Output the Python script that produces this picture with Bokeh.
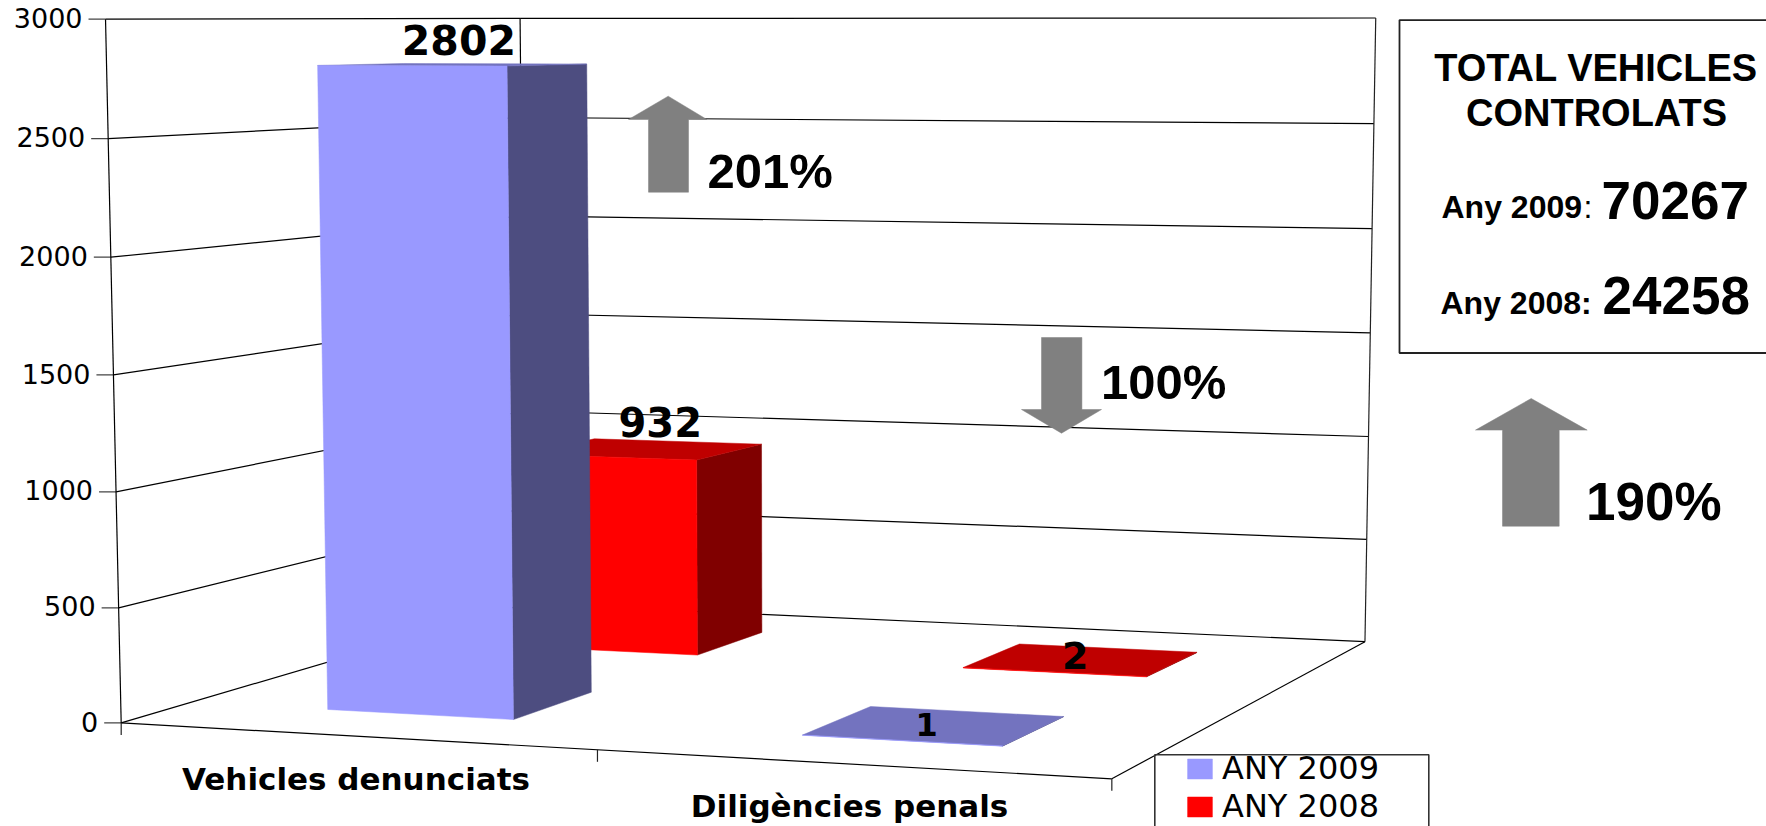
import numpy as np
from bokeh.core.properties import value
from bokeh.embed import file_html
from bokeh.models import Legend, LegendItem, Range1d
from bokeh.plotting import figure
from bokeh.resources import INLINE

# ---- chart values ----
categories = ["Vehicles denunciats", "Diligències penals"]
series_names = ["ANY 2009", "ANY 2008"]
any_2009 = [2802, 1]
any_2008 = [932, 2]
value_ticks = [0, 500, 1000, 1500, 2000, 2500, 3000]
box_title = ["TOTAL VEHICLES", "CONTROLATS"]
total_2009 = "70267"
total_2008 = "24258"
change_vehicles = "201%"
change_diligencies = "100%"
change_total = "190%"

# ---- camera of the 3-D chart: (category, depth, value) -> page pixel ----
CAL = [
    (0, 0, 0, 120, 722.3), (0, 0, 500, 118, 607), (0, 0, 1000, 115, 491), (0, 0, 1500, 112, 375),
    (0, 0, 2000, 110, 257), (0, 0, 2500, 108, 138), (0, 0, 3000, 105.6, 19),
    (0, 1, 0, 527, 603), (0, 1, 500, 525.5, 508), (0, 1, 1000, 524, 410), (0, 1, 1500, 522.5, 313.4),
    (0, 1, 2000, 521, 215), (0, 1, 2500, 519.5, 117.6), (0, 1, 3000, 518, 17.5),
    (2, 1, 0, 1365, 641), (2, 1, 500, 1366, 539), (2, 1, 1000, 1368, 436), (2, 1, 1500, 1370, 332.5),
    (2, 1, 2000, 1371.5, 228), (2, 1, 2500, 1373, 123), (2, 1, 3000, 1376, 17.5),
    (2, 0, 0, 1110, 779), (1, 0, 0, 597, 749),
    (.3, .15, 0, 326, 709), (.7, .15, 0, 513, 718), (.7, .35, 0, 591, 692),
    (.3, .15, 2802, 319, 65), (.7, .15, 2802, 507.6, 66), (.7, .35, 2802, 586, 63),
    (.7, .65, 0, 697, 654), (.7, .65, 932, 695, 459), (.7, .85, 932, 761, 444), (.7, .85, 0, 761, 633),
    (1.3, .15, 0, 803, 734), (1.7, .15, 0, 1004, 746), (1.7, .35, 0, 1062, 716), (1.3, .35, 0, 871, 707),
    (1.3, .65, 0, 962.6, 667.7), (1.7, .65, 0, 1145.6, 676.7), (1.7, .85, 0, 1196.5, 651.7), (1.3, .85, 0, 1017, 644),
]
rows = []
for u, d, v, x, y in CAL:
    X = [u, d, v / 1000, 1]
    x, y = x / 1000, y / 1000
    rows.append(X + [0, 0, 0, 0] + [-x * c for c in X])
    rows.append([0, 0, 0, 0] + X + [-y * c for c in X])
P = np.linalg.svd(np.array(rows, float))[2][-1].reshape(3, 4)


def pj(u, d, v):
    w = P @ np.array([u, d, v / 1000, 1.0])
    return float(w[0] / w[2] * 1000), float(w[1] / w[2] * 1000)


def poly(*pts):
    q = [pj(*a) for a in pts]
    return [a[0] for a in q], [a[1] for a in q]


# ---- page-pixel canvas ----
W, H = 1766, 826
p = figure(width=W, height=H, x_range=Range1d(0, W), y_range=Range1d(H, 0),
           output_backend="svg", toolbar_location=None, min_border=0,
           background_fill_color="white", border_fill_color="white", outline_line_color=None)
p.axis.visible = False
p.grid.visible = False

LINE = "#000000"


def seg(a, b, color=LINE, w=1.2):
    p.line([a[0], b[0]], [a[1], b[1]], line_color=color, line_width=w)


def label(x, y, t, font="Liberation Sans", size=40, bold=True, align="left"):
    # y is the baseline of the digits; the text is placed by its middle
    k = .358 if font == "Liberation Sans" else .365
    p.text([x], [y - k * size], text=[t], text_font=value(font), text_font_size=f"{size}px",
           text_font_style="bold" if bold else "normal", text_align=align,
           text_baseline="middle", text_color="black")


# walls and floor
for v in value_ticks:
    seg(pj(0, 0, v), pj(0, 1, v))
    seg(pj(0, 1, v), pj(2, 1, v))
    x, y = pj(0, 0, v)
    seg((x - 17, y), (x, y), "#444444")
    label(x - 23, y + 8.5, str(v), "DejaVu Sans", 27, False, "right")
seg(pj(0, 0, 3000), pj(0, 0, 0))
seg(pj(0, 1, 3000), pj(0, 1, 0))
seg(pj(2, 1, 3000), pj(2, 1, 0), "#222222")
seg(pj(0, 0, 0), pj(2, 0, 0))
seg(pj(2, 0, 0), pj(2, 1, 0))
for u in (0, 1, 2):
    x, y = pj(u, 0, 0)
    seg((x, y), (x, y + 12), "#222222")

# bars: back row first, far category first
U0, U1 = .3, .7
ROWS = [(.15, .35), (.65, .85)]
COLORS = [("#9999FF", "#4D4D80", "#7373BF"), ("#FF0000", "#800000", "#BF0000")]
front_renderers = {}
for s in (1, 0):
    vals = any_2009 if s == 0 else any_2008
    d0, d1 = ROWS[s]
    front, side, top = COLORS[s]
    for c in (1, 0):
        v = vals[c]
        u0, u1 = c + U0, c + U1
        xs, ys = poly((u1, d0, 0), (u1, d1, 0), (u1, d1, v), (u1, d0, v))
        p.patch(xs, ys, fill_color=side, line_color=side, line_width=.5)
        xs, ys = poly((u0, d0, v), (u1, d0, v), (u1, d1, v), (u0, d1, v))
        p.patch(xs, ys, fill_color=top, line_color=top, line_width=.5)
        xs, ys = poly((u0, d0, 0), (u1, d0, 0), (u1, d0, v), (u0, d0, v))
        front_renderers[s] = p.patch(xs, ys, fill_color=front, line_color=front, line_width=.5)

# value labels, anchored on the top of each bar
LABEL_OFFSET = [[(5, -10), (-8, 11)], [(16, -13), (-6, 10)]]
LABEL_SIZE = [[41, 32], [40, 38]]
for s, vals in enumerate((any_2009, any_2008)):
    d = sum(ROWS[s]) / 2
    for c, v in enumerate(vals):
        x, y = pj(c + .5, d, v)
        dx, dy = LABEL_OFFSET[s][c]
        label(x + dx, y + dy, str(v), "DejaVu Sans", LABEL_SIZE[s][c], True, "center")

# category labels
label(355.5, 790, categories[0], "DejaVu Sans", 31, True, "center")
label(849, 817, categories[1], "DejaVu Sans", 31, True, "center")

# grey arrows
GREY = "#808080"
p.patch([667.7, 706.4, 688, 688, 648, 648, 628], [95.7, 119, 119, 191.7, 191.7, 119, 119],
        fill_color=GREY, line_color=GREY, line_width=.5)
p.patch([1061, 1101, 1081.4, 1081.4, 1041, 1041, 1021], [432.7, 409, 409, 337, 337, 409, 409],
        fill_color=GREY, line_color=GREY, line_width=.5)
p.patch([1530.7, 1586.7, 1558.7, 1558.7, 1502, 1502, 1475], [398, 429.6, 429.6, 525.7, 525.7, 429.6, 429.6],
        fill_color=GREY, line_color=GREY, line_width=.5)
label(707, 187.7, change_vehicles, size=49)
label(1100.5, 399, change_diligencies, size=49)
label(1585.5, 519.6, change_total, size=53)

# totals box
p.line([1770, 1399, 1399, 1770], [19.6, 19.6, 352.5, 352.5], line_color="#222222", line_width=1.8)
label(1595.5, 81.4, box_title[0], size=38, align="center")
label(1596, 125.7, box_title[1], size=38, align="center")
label(1441, 218, "Any 2009", size=32)
label(1583, 218, ":", size=32, bold=False)
label(1601, 218.6, total_2009, size=53)
label(1440, 314, "Any 2008:", size=32)
label(1602, 314, total_2008, size=53)

# legend box and legend
p.line([1154.3, 1154.3, 1428.3, 1428.3], [830, 754.3, 754.3, 830], line_color="#333333", line_width=1.6)
legend = Legend(
    items=[LegendItem(label=series_names[0], renderers=[front_renderers[0]]),
           LegendItem(label=series_names[1], renderers=[front_renderers[1]])],
    location=(1184, 1), margin=0, padding=0, spacing=0,
    glyph_width=31, glyph_height=25, label_height=19, label_standoff=7,
    label_text_font="DejaVu Sans", label_text_font_size="32px", label_text_color="black",
    border_line_color=None, background_fill_alpha=0.0,
)
p.add_layout(legend, "center")

open("out.html", "w").write(file_html(p, INLINE))
